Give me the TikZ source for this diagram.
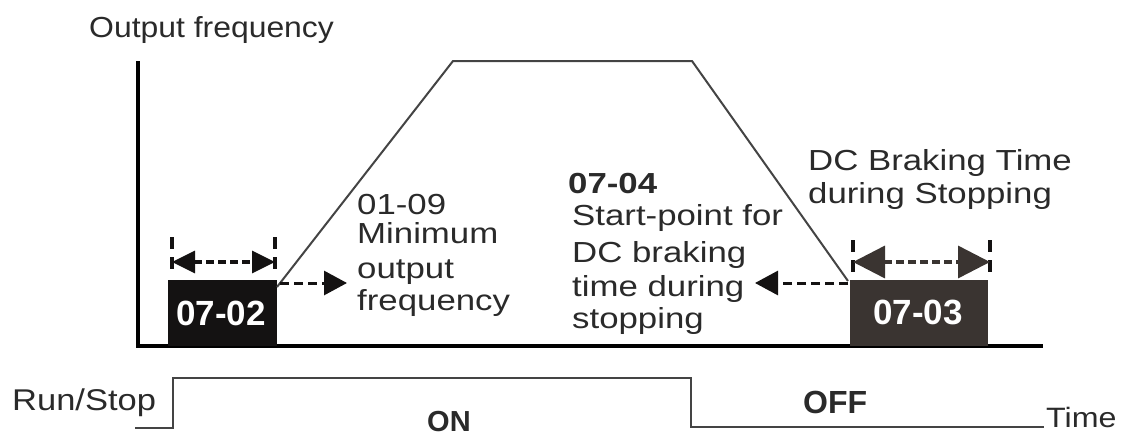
\documentclass[tikz,border=0pt]{standalone}
\usepackage{fontspec}
\setmainfont{Liberation Sans}
\newfontfamily\lblfont{Liberation Sans}[FakeStretch=1.2]
\newfontfamily\ttlfont{Liberation Sans}[FakeStretch=1.1]
\newfontfamily\botfont{Liberation Sans}[FakeStretch=1.15]
\usetikzlibrary{arrows.meta}
\definecolor{txt}{HTML}{2A2A2A}
\definecolor{lin}{HTML}{444444}
\definecolor{boxa}{HTML}{141212}
\definecolor{boxb}{HTML}{3A3431}
\tikzset{
  lbl/.style={anchor=base west,inner sep=0pt,text=txt,font=\lblfont\fontsize{29}{34}\selectfont},
  boxlbl/.style={draw=none,inner sep=0pt,text=white,font=\bfseries\fontsize{35}{40}\selectfont},
  axis/.style={line width=4pt,black},
  curve/.style={line width=2pt,lin,line join=miter},
  sig/.style={line width=2pt,lin},
  tick/.style={line width=4pt,boxa,dash pattern=on 12pt off 8pt},
  dim/.style={line width=3.5pt,boxa,dash pattern=on 8pt off 4pt},
  ptr/.style={line width=3pt,boxa,dash pattern=on 9pt off 5pt,-{Triangle[length=23pt,width=24pt]}}
}
\begin{document}
\begin{tikzpicture}[x=1pt,y=-1pt]
\useasboundingbox (0,0) rectangle (1136,437);
% axes
\coordinate (ytop) at (138,61);
\coordinate (orig) at (138,348);
\coordinate (xend) at (1043,346);
\draw[axis] (ytop) -- (orig);
\draw[axis] (136,346) -- (xend);
\node[anchor=base west,inner sep=0pt,text=txt,font=\ttlfont\fontsize{29}{34}\selectfont] (title) at (89,37) {Output frequency};
% boxes
\fill[boxa] (168,280) rectangle (277,346);
\node[boxlbl] (b1) at (221,313) {07-02};
\fill[boxb] (850,280) rectangle (988,346);
\node[boxlbl] (b2) at (918,312) {07-03};
% trapezoid
\coordinate (p0) at (277,287);
\coordinate (p1) at (453,61);
\coordinate (p2) at (692,61);
\coordinate (p3) at (848,281);
\draw[curve] (p0) -- (p1) -- (p2) -- (p3);
% dimension marks 07-02
\coordinate (t1a) at (172,237); \coordinate (t1b) at (172,273);
\coordinate (t2a) at (275,237); \coordinate (t2b) at (275,273);
\draw[tick] (t1a) -- (t1b);
\draw[tick] (t2a) -- (t2b);
\coordinate (d1) at (172,262); \coordinate (d2) at (275,262);
\draw[dim,{Triangle[length=23pt,width=22pt]}-{Triangle[length=23pt,width=22pt]}] (d1) -- (d2);
% dimension marks 07-03
\coordinate (t3a) at (853,240); \coordinate (t3b) at (853,276);
\coordinate (t4a) at (990,240); \coordinate (t4b) at (990,276);
\draw[tick] (t3a) -- (t3b);
\draw[tick] (t4a) -- (t4b);
\coordinate (d3) at (853,262); \coordinate (d4) at (990,262);
\draw[dim,boxb,{Triangle[length=32pt,width=32pt]}-{Triangle[length=32pt,width=32pt]}] (d3) -- (d4);
% pointer arrows
\coordinate (a1) at (280,283); \coordinate (a1e) at (347,283);
\draw[ptr] (a1) -- (a1e);
\coordinate (a2) at (848,283); \coordinate (a2e) at (755,283);
\draw[ptr] (a2) -- (a2e);
% labels
\node[lbl] (l1) at (357,214) {01-09};
\node[lbl] (l2) at (357,243) {Minimum};
\node[lbl] (l3) at (357,278) {output};
\node[lbl] (l4) at (357,310) {frequency};
\node[lbl,font=\lblfont\bfseries\fontsize{29}{34}\selectfont] (m0) at (568,193) {07-04};
\node[lbl] (m1) at (572,225) {Start-point for};
\node[lbl] (m2) at (572,262) {DC braking};
\node[lbl] (m3) at (572,296) {time during};
\node[lbl] (m4) at (572,328) {stopping};
\node[lbl,font=\lblfont\fontsize{29}{34}\selectfont] (r1) at (808,170) {DC Braking Time};
\node[lbl] (r2) at (808,203) {during Stopping};
% run/stop signal
\coordinate (s0) at (135,428);
\coordinate (s1) at (173,428);
\coordinate (s2) at (173,378);
\coordinate (s3) at (691,378);
\coordinate (s4) at (691,427);
\coordinate (s5) at (1044,427);
\draw[sig] (s0) -- (s1) -- (s2) -- (s3) -- (s4) -- (s5);
\node[anchor=base west,inner sep=0pt,text=txt,font=\botfont\fontsize{30}{34}\selectfont] (rs) at (12,410) {Run/Stop};
\node[anchor=base west,inner sep=0pt,text=txt,font=\bfseries\fontsize{29}{34}\selectfont] (on) at (427,431) {ON};
\node[anchor=base west,inner sep=0pt,text=txt,font=\bfseries\fontsize{32}{34}\selectfont] (off) at (803,413) {OFF};
\node[anchor=base west,inner sep=0pt,text=txt,font=\botfont\fontsize{28}{34}\selectfont] (tm) at (1046,427) {Time};
\end{tikzpicture}
\end{document}
